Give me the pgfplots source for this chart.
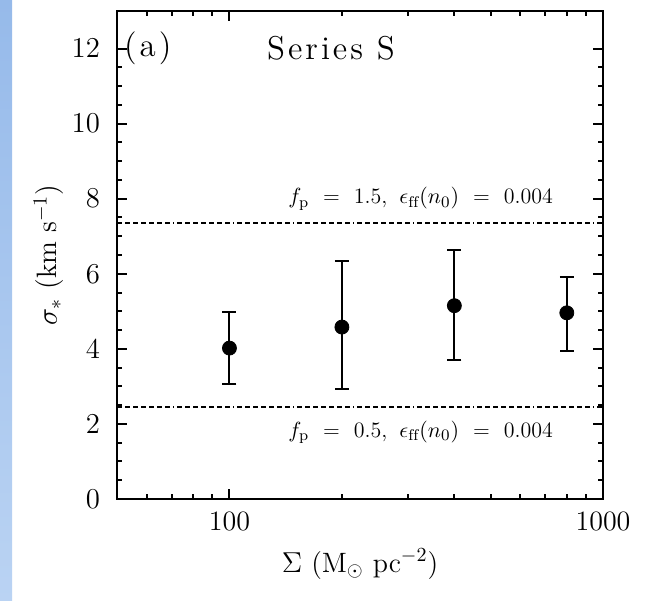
\documentclass[border=0pt]{standalone}
\usepackage{fontspec}
\usepackage{pgfplots}
\pgfplotsset{compat=1.18}
\definecolor{slidetop}{HTML}{96BAEA}
\definecolor{slidebot}{HTML}{BAD3F3}
\newfontfamily\wide{lmroman12-regular}[Extension=.otf, LetterSpace=9]
\newcommand\eqs{\hspace{7pt}=\hspace{7pt}}
\begin{document}
\begin{tikzpicture}
\path[use as bounding box] (0,0) rectangle (335.5pt,300.5pt);
\shade[top color=slidetop, bottom color=slidebot] (0,0) rectangle (6pt,300.5pt);
\begin{axis}[
    at={(58.5pt,51pt)}, anchor=south west,
    scale only axis,
    width=243pt, height=244pt,
    xmode=log,
    xmin=50, xmax=1000,
    ymin=0, ymax=13,
    xtick={100,1000},
    xticklabels={100,1000},
    minor xtick={60,70,80,90,200,300,400,500,600,700,800,900},
    ytick={0,2,4,6,8,10,12},
    minor y tick num=3,
    major tick length=5pt,
    minor tick length=2.5pt,
    axis line style={line width=1.2pt},
    every tick/.style={black, line width=1pt},
    tick label style={font=\fontsize{14}{16}\selectfont},
    yticklabel shift=5pt,
    xticklabel shift=3pt,
    xlabel={$\Sigma$ (M$_\odot$ pc$^{-2}$)},
    ylabel={$\sigma_*$ (km s$^{-1}$)},
    label style={font=\fontsize{14}{16}\selectfont},
    xlabel style={yshift=-2pt},
    ylabel style={yshift=-3pt},
    clip=false,
]
\addplot[
    only marks,
    mark=*,
    mark size=3.5pt,
    black,
    error bars/.cd,
    y dir=both, y explicit,
    error bar style={line width=1pt},
    error mark options={line width=1pt, mark size=3.5pt, rotate=90},
    ]
    coordinates {
    (100,4.02) +- (0,0.96)
    (200,4.58) += (0,1.75) -= (0,1.66)
    (400,5.15) += (0,1.47) -= (0,1.45)
    (800,4.96) += (0,0.96) -= (0,1.02)
    };
\addplot[
    black, line width=0.9pt,
    dash pattern=on 2.5pt off 1.5pt on 2.5pt off 1.5pt on 2.5pt off 1.5pt on 2.5pt off 1.5pt on 2.5pt off 1.5pt on 2.5pt off 1.5pt on 2.5pt off 1.5pt on 0.5pt off 1.5pt,
    ]
    coordinates {(50,7.35) (1000,7.35)};
\addplot[
    black, line width=0.9pt,
    dash pattern=on 2.5pt off 1.5pt on 2.5pt off 1.5pt on 2.5pt off 1.5pt on 2.5pt off 1.5pt on 2.5pt off 1.5pt on 2.5pt off 1.5pt on 2.5pt off 1.5pt on 0.5pt off 1.5pt,
    ]
    coordinates {(50,2.45) (1000,2.45)};
\node[anchor=west, font=\wide\fontsize{16.5}{20}\selectfont, inner sep=1pt] at (axis cs:51.5,12) {(a)};
\node[font=\wide\fontsize{16.5}{20}\selectfont] at (axis cs:187,12) {Series S};
\node[font=\fontsize{11}{13}\selectfont] at (axis cs:325,8.0)
    {$f_{\rm p}$\eqs 1.5,\hspace{6pt}$\epsilon_{\rm ff}(n_0)$\eqs 0.004};
\node[font=\fontsize{11}{13}\selectfont] at (axis cs:325,1.77)
    {$f_{\rm p}$\eqs 0.5,\hspace{6pt}$\epsilon_{\rm ff}(n_0)$\eqs 0.004};
\end{axis}
\end{tikzpicture}
\end{document}
